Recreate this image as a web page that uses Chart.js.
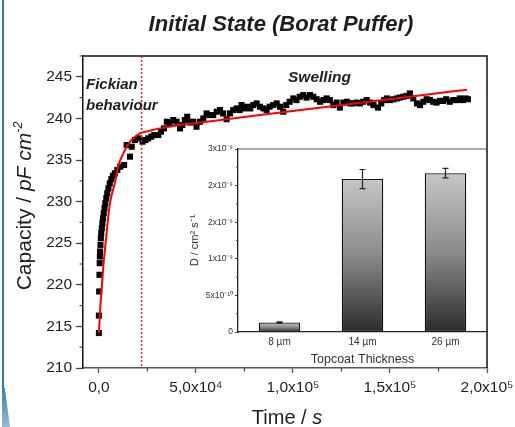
<!DOCTYPE html>
<html>
<head>
<meta charset="utf-8">
<script src="https://cdn.jsdelivr.net/npm/chart.js@4.4.1/dist/chart.umd.min.js"></script>
<style>
    html, body { margin: 0; padding: 0; background: #fff; }
    #wrap { position: relative; width: 515px; height: 427px; overflow: hidden; }
    #main { position: absolute; left: 0; top: 0; }
    #inset { position: absolute; left: 180px; top: 140px; }
    .edge { position: absolute; left: 2px; top: 0; width: 2px; height: 398px; background: #2d76a6; }
    .edge-foot { position: absolute; left: 2px; top: 388px; width: 8px; height: 39px;
        background: linear-gradient(#3b7fab, #9db9cf); clip-path: polygon(0 0, 35% 0, 100% 100%, 0 100%); }
</style>
</head>
<body>
<div id="wrap">
    <div class="edge"></div>
    <div class="edge-foot"></div>
    <canvas id="main" width="515" height="427"></canvas>
    <canvas id="inset" width="320" height="230"></canvas>
</div>
<script>
const timeS = [0, 0, 150, 300, 400, 500, 600, 800, 1000, 1200, 1500, 1800, 2100, 2500, 2900, 3300,
    3800, 4300, 4900, 5600, 6400, 7200, 8200, 9500, 11000, 13000, 14300, 16000, 16900, 18600,
    20800, 22500, 24000, 25400, 27000, 28500, 30600, 32000, 33500, 35000, 36500, 38300, 40000,
    41800, 43000, 44300, 45500, 47000, 48500, 50300, 52000, 53800, 55500, 57000, 58900, 60700,
    62400, 64000, 65800, 67500, 69200, 71000, 72500, 73500, 75000, 76500, 78000, 79500, 81300,
    83000, 84800, 86400, 88000, 89800, 91600, 93300, 95000, 96500, 98300, 100200, 101800, 103500,
    105300, 107000, 108800, 110500, 112200, 114000, 115700, 117400, 119000, 120800, 122500,
    124200, 126000, 127800, 129500, 131000, 132800, 134500, 136200, 138000, 139800, 141500,
    143800, 145500, 147000, 148400, 150000, 151800, 153600, 155000, 156800, 158500, 160300,
    162000, 163900, 165500, 167200, 168900, 170600, 172300, 174000, 175700, 177300, 179000,
    180800, 182600, 184500, 186000, 187600, 189000, 190200];
const capacity = [214.2, 216.3, 219.2, 221.2, 222.6, 223.4, 224.0, 224.8, 225.6, 226.2, 226.8, 227.4,
    228.0, 228.6, 229.2, 229.8, 230.4, 231.0, 231.6, 232.2, 232.7, 233.1, 233.4, 233.8, 234.2,
    234.4, 236.8, 235.4, 236.6, 237.4, 237.6, 237.2, 237.4, 237.6, 237.8, 238.0, 238.0, 238.4,
    238.8, 239.6, 239.4, 239.8, 239.6, 238.8, 239.2, 239.8, 240.2, 239.5, 239.6, 239.0, 239.6,
    240.0, 240.6, 240.4, 240.4, 240.8, 241.0, 240.6, 239.9, 240.6, 241.0, 241.2, 241.0, 241.6,
    241.2, 241.4, 241.2, 241.6, 241.8, 241.4, 241.2, 241.0, 241.4, 241.6, 241.8, 241.4, 240.8,
    241.6, 242.0, 242.4, 242.2, 242.6, 242.8, 242.5, 242.8, 242.6, 242.3, 242.0, 242.2, 242.4,
    242.2, 241.6, 241.9, 241.3, 241.9, 242.0, 241.8, 241.8, 241.9, 241.8, 242.0, 242.2, 241.9,
    241.6, 241.3, 241.8, 242.2, 242.4, 242.2, 242.3, 242.4, 242.5, 242.6, 242.7, 243.0, 242.4,
    241.8, 241.6, 242.0, 242.3, 242.2, 242.0, 241.9, 242.1, 242.1, 242.3, 242.0, 242.2, 242.2,
    242.4, 242.2, 242.4, 242.3];

// fitted curve (red)
const fitT = [0, 700, 1400, 2200, 3100, 4000, 4800, 6000, 8200, 10000, 12400, 14300, 16800,
    21100, 26000, 31400, 40000, 48500, 83000, 120000, 160000, 189700];
const fitC = [214.2, 217.2, 219.4, 222.0, 224.2, 226.3, 228.2, 230.2, 232.2, 234.3, 235.7, 236.6,
    237.4, 238.2, 238.5, 238.8, 239.15, 239.4, 240.4, 241.45, 242.6, 243.45];

const fickianLimit = 22000;

const xTicks = [0, 50000, 100000, 150000, 200000];
const xTickLabels = ["0,0", "5,0x10⁴", "1,0x10⁵", "1,5x10⁵", "2,0x10⁵"];
const xMinorTicks = [25000, 75000, 125000, 175000];
const yTicks = [210, 215, 220, 225, 230, 235, 240, 245];
const yMinorTicks = [212.5, 217.5, 222.5, 227.5, 232.5, 237.5, 242.5, 247.5];

// inset: diffusion coefficient per topcoat thickness
const thickness = ["8 µm", "14 µm", "26 µm"];
const diffusion = [1.3e-10, 2.09e-9, 2.17e-9];
const diffusionErr = [0.08e-10, 1.3e-10, 0.65e-10];
const insetTicks = [0, 5e-10, 1e-9, 1.5e-9, 2e-9, 2.5e-9];
const insetTickLabels = ["0", "5x10⁻¹⁰", "1x10⁻⁹", "2x10⁻⁹", "2x10⁻⁹", "3x10⁻⁹"];
const insetMinorTicks = [2.5e-10, 7.5e-10, 1.25e-9, 1.75e-9, 2.25e-9];

const FONT = "'Liberation Sans', Arial, sans-serif";
const TEXT = "#1e1e1e";

function drawRun(ctx, parts, x, y) {
    // parts: [text, font, dy], drawn left to right from x
    let cx = x;
    parts.forEach(function (p) {
        ctx.font = p[1];
        ctx.fillText(p[0], cx, y + (p[2] || 0));
        cx += ctx.measureText(p[0]).width;
    });
}

function runWidth(ctx, parts) {
    let w = 0;
    parts.forEach(function (p) {
        ctx.font = p[1];
        w += ctx.measureText(p[0]).width;
    });
    return w;
}

const mainDecor = {
    id: "mainDecor",
    afterDraw: function (chart) {
        const ctx = chart.ctx;
        const area = chart.chartArea;
        const xs = chart.scales.x;
        const ys = chart.scales.y;
        ctx.save();

        // frame top / right
        ctx.strokeStyle = "#111";
        ctx.lineWidth = 1.5;
        ctx.beginPath();
        ctx.moveTo(area.left, area.top);
        ctx.lineTo(area.right, area.top);
        ctx.lineTo(area.right, area.bottom);
        ctx.stroke();

        // minor ticks
        ctx.strokeStyle = "#444";
        ctx.lineWidth = 1.2;
        ctx.beginPath();
        yMinorTicks.forEach(function (v) {
            const py = ys.getPixelForValue(v);
            ctx.moveTo(area.left - 3.5, py);
            ctx.lineTo(area.left, py);
        });
        xMinorTicks.forEach(function (v) {
            const px = xs.getPixelForValue(v);
            ctx.moveTo(px, area.bottom);
            ctx.lineTo(px, area.bottom + 3.5);
        });
        ctx.stroke();

        // Fickian limit
        const lx = xs.getPixelForValue(fickianLimit);
        ctx.strokeStyle = "#ff1a1a";
        ctx.lineWidth = 1.5;
        ctx.setLineDash([2, 2]);
        ctx.beginPath();
        ctx.moveTo(lx, area.top);
        ctx.lineTo(lx, area.bottom);
        ctx.stroke();
        ctx.setLineDash([]);

        ctx.fillStyle = TEXT;
        ctx.textBaseline = "alphabetic";
        ctx.textAlign = "center";
        ctx.font = "italic bold 22px " + FONT;
        ctx.fillText("Initial State (Borat Puffer)", 281, 31);

        ctx.textAlign = "left";
        ctx.font = "italic bold 15px " + FONT;
        ctx.fillText("Fickian", 86, 89);
        ctx.fillText("behaviour", 86, 110);
        ctx.font = "italic bold 15.5px " + FONT;
        ctx.fillText("Swelling", 288, 82);

        // x title
        const xt = [["Time / ", "20px " + FONT], ["s", "italic 20px " + FONT]];
        drawRun(ctx, xt, 287 - runWidth(ctx, xt) / 2, 424);

        // y title
        const yt = [["Capacity / ", "21px " + FONT], ["pF cm", "italic 21px " + FONT],
            ["-2", "italic 12.5px " + FONT, -9.5]];
        ctx.translate(31, 206);
        ctx.rotate(-Math.PI / 2);
        drawRun(ctx, yt, -runWidth(ctx, yt) / 2, 0);
        ctx.restore();
    }
};

const mainChart = new Chart(document.getElementById("main"), {
    type: "scatter",
    data: {
        datasets: [{
            type: "line",
            label: "fit",
            data: fitT.map(function (t, i) { return { x: t, y: fitC[i] }; }),
            borderColor: "#ff0000",
            borderWidth: 2,
            pointRadius: 0,
            cubicInterpolationMode: "monotone",
            fill: false
        }, {
            label: "capacity",
            data: timeS.map(function (t, i) { return { x: t, y: capacity[i] }; }),
            pointStyle: "rect",
            pointRadius: 4.3,
            backgroundColor: "#000",
            borderColor: "#000",
            borderWidth: 0
        }]
    },
    options: {
        responsive: false,
        animation: false,
        devicePixelRatio: 1,
        layout: { padding: { left: 33, right: 28, top: 56, bottom: 14 } },
        plugins: { legend: { display: false }, title: { display: false }, tooltip: { enabled: false } },
        scales: {
            x: {
                type: "linear",
                min: -8200,
                max: 200000,
                afterBuildTicks: function (scale) {
                    scale.ticks = xTicks.map(function (v) { return { value: v }; });
                },
                afterFit: function (scale) {
                    scale.height = 45;
                    scale.paddingLeft = 0;
                    scale.paddingRight = 0;
                },
                ticks: {
                    autoSkip: false,
                    maxRotation: 0,
                    padding: 5,
                    color: TEXT,
                    font: { family: FONT, size: 15.5 },
                    callback: function (v) { return xTickLabels[xTicks.indexOf(v)]; }
                },
                grid: { drawOnChartArea: false, tickLength: 5, tickColor: "#555", tickWidth: 1.3 },
                border: { color: "#555", width: 1.5 }
            },
            y: {
                min: 210,
                max: 247.5,
                afterBuildTicks: function (scale) {
                    scale.ticks = yTicks.map(function (v) { return { value: v }; });
                },
                afterFit: function (scale) {
                    scale.width = 50;
                    scale.paddingTop = 0;
                    scale.paddingBottom = 0;
                },
                ticks: {
                    padding: 4,
                    color: TEXT,
                    font: { family: FONT, size: 15.5 }
                },
                grid: { drawOnChartArea: false, tickLength: 7, tickColor: "#444", tickWidth: 1.3 },
                border: { color: "#111", width: 1.5 }
            }
        }
    },
    plugins: [mainDecor]
});

const insetDecor = {
    id: "insetDecor",
    afterDatasetsDraw: function (chart) {
        const ctx = chart.ctx;
        const area = chart.chartArea;
        const ys = chart.scales.y;
        const meta = chart.getDatasetMeta(0);
        ctx.save();

        // top frame
        ctx.strokeStyle = "#555";
        ctx.lineWidth = 1.2;
        ctx.beginPath();
        ctx.moveTo(area.left, area.top);
        ctx.lineTo(area.right, area.top);
        ctx.stroke();

        // minor ticks on y
        ctx.strokeStyle = "#444";
        ctx.lineWidth = 1;
        ctx.beginPath();
        insetMinorTicks.forEach(function (v) {
            const py = ys.getPixelForValue(v);
            ctx.moveTo(area.left - 2, py);
            ctx.lineTo(area.left, py);
        });
        ctx.stroke();

        // error bars
        ctx.strokeStyle = "#222";
        ctx.lineWidth = 1.2;
        ctx.beginPath();
        meta.data.forEach(function (bar, i) {
            const top = ys.getPixelForValue(diffusion[i] + diffusionErr[i]);
            const bot = ys.getPixelForValue(diffusion[i] - diffusionErr[i]);
            ctx.moveTo(bar.x, top);
            ctx.lineTo(bar.x, bot);
            ctx.moveTo(bar.x - 3, top);
            ctx.lineTo(bar.x + 3, top);
            ctx.moveTo(bar.x - 3, bot);
            ctx.lineTo(bar.x + 3, bot);
        });
        ctx.stroke();
        ctx.restore();
    }
};

const insetChart = new Chart(document.getElementById("inset"), {
    type: "bar",
    data: {
        labels: thickness,
        datasets: [{
            data: diffusion,
            backgroundColor: function (c) {
                const chart = c.chart;
                const area = chart.chartArea;
                if (!area) {
                    return "#888";
                }
                const top = chart.scales.y.getPixelForValue(diffusion[c.dataIndex]);
                const g = chart.ctx.createLinearGradient(0, top, 0, area.bottom);
                g.addColorStop(0, "#c6c6c6");
                g.addColorStop(0.5, "#8a8a8a");
                g.addColorStop(1, "#2c2c2c");
                return g;
            },
            borderColor: "#111",
            borderWidth: 1.3,
            borderSkipped: false,
            barPercentage: 0.5,
            categoryPercentage: 1
        }]
    },
    options: {
        responsive: false,
        animation: false,
        devicePixelRatio: 1,
        layout: { padding: { left: 0, right: 13, top: 9, bottom: 0 } },
        plugins: { legend: { display: false }, tooltip: { enabled: false } },
        scales: {
            x: {
                afterFit: function (scale) { scale.height = 38; },
                ticks: { padding: 4, color: "#333", font: { family: FONT, size: 10 } },
                grid: { display: true, drawOnChartArea: false, drawTicks: false },
                border: { color: "#222", width: 1.3 },
                title: {
                    display: true,
                    text: "Topcoat Thickness",
                    color: "#333",
                    font: { family: FONT, size: 12.5 },
                    padding: { top: 0, bottom: 3 }
                }
            },
            y: {
                min: 0,
                max: 2.5e-9,
                afterBuildTicks: function (scale) {
                    scale.ticks = insetTicks.map(function (v) { return { value: v }; });
                },
                afterFit: function (scale) { scale.width = 58; },
                ticks: {
                    padding: 2,
                    color: "#333",
                    font: { family: FONT, size: 8.5 },
                    callback: function (v, i) { return insetTickLabels[i]; }
                },
                grid: { drawOnChartArea: false, tickLength: 3, tickColor: "#444" },
                border: { color: "#222", width: 1.3 },
                title: {
                    display: true,
                    text: "D / cm² s⁻¹",
                    color: "#333",
                    font: { family: FONT, size: 11 },
                    padding: { top: 8, bottom: 0 }
                }
            }
        }
    },
    plugins: [insetDecor]
});
</script>
</body>
</html>
